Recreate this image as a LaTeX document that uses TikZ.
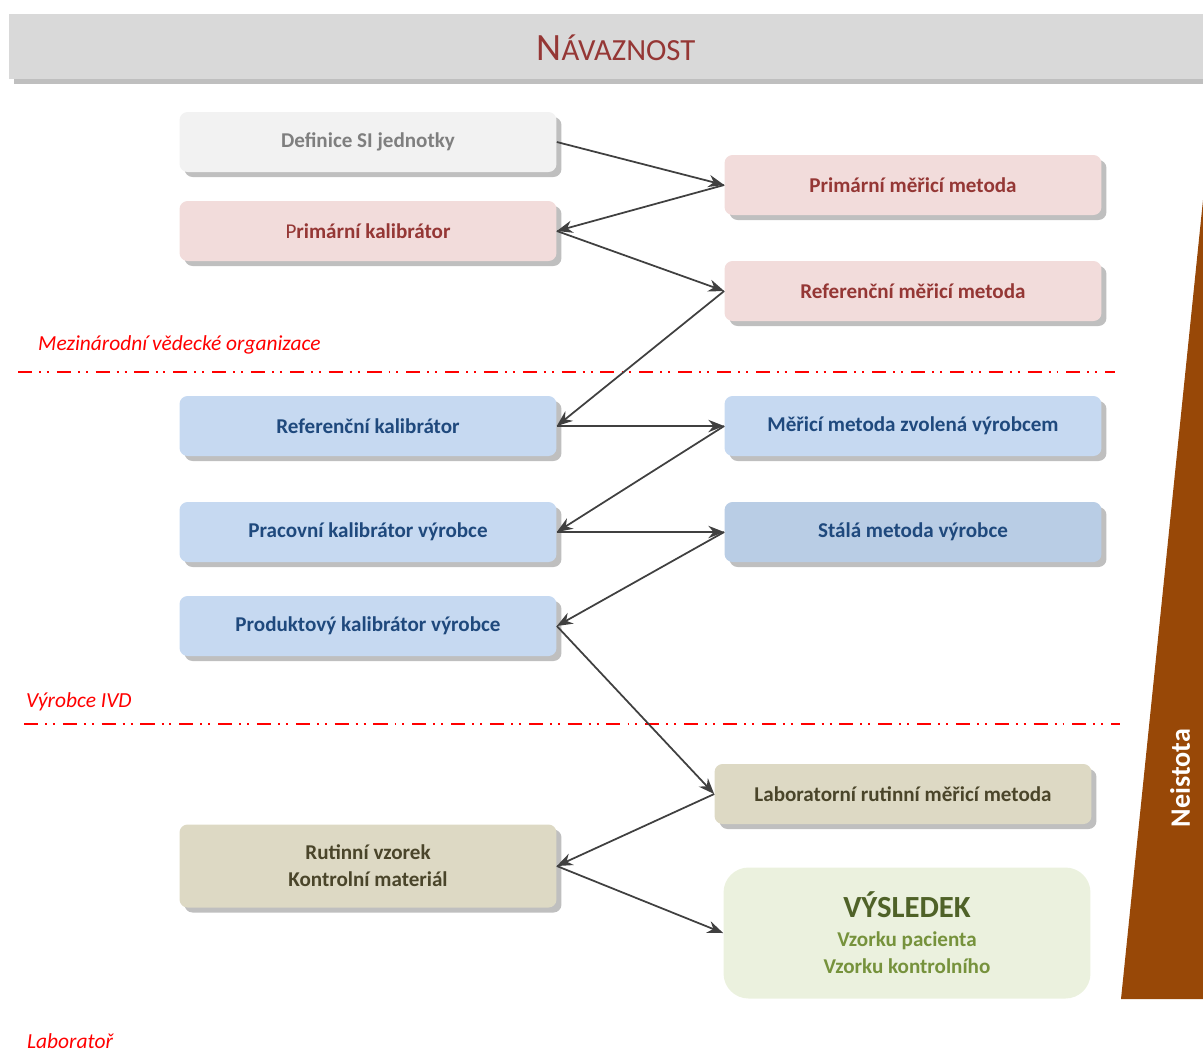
\documentclass[tikz,border=0pt]{standalone}
\usepackage{fontspec}
\setmainfont{Carlito}
\usetikzlibrary{arrows.meta,shadows}
\definecolor{titlegray}{HTML}{D9D9D9}
\definecolor{shadowgray}{HTML}{BFBFBF}
\definecolor{darkred}{HTML}{953735}
\definecolor{pinkfill}{HTML}{F2DCDB}
\definecolor{lightgray}{HTML}{F2F2F2}
\definecolor{textgray}{HTML}{7F7F7F}
\definecolor{bluefill}{HTML}{C6D9F1}
\definecolor{bluefilldark}{HTML}{B9CDE5}
\definecolor{bluetext}{HTML}{1F497D}
\definecolor{tanfill}{HTML}{DDD9C4}
\definecolor{tantext}{HTML}{4A452A}
\definecolor{greenfill}{HTML}{EBF1DE}
\definecolor{greendark}{HTML}{4F6228}
\definecolor{greentext}{HTML}{76923C}
\definecolor{arrowgray}{HTML}{404040}
\definecolor{brownbar}{HTML}{984807}

\begin{document}
\begin{tikzpicture}[x=0.02cm,y=-0.02cm]
    \tikzstyle{every node}=[font=\bfseries\fontsize{12}{15.5}\selectfont]
    \tikzstyle{box}=[rounded corners=0.16cm, minimum width=7.54cm, minimum height=1.2cm, align=center,
        drop shadow={shadow xshift=0.1cm, shadow yshift=-0.1cm, fill=shadowgray, opacity=1}]
    \tikzstyle{conn}=[draw=arrowgray, line width=1pt, -{Stealth[length=9pt,width=7pt]}]
    \tikzstyle{border}=[red, line width=1.1pt, dash pattern=on 8pt off 4pt on 1.1pt off 3.4pt on 1.1pt off 4.5pt]
    \tikzstyle{zone}=[red, font=\itshape\fontsize{12.2}{14}\selectfont, anchor=west]
    \useasboundingbox (0,0) rectangle (1203,1059);
    % title bar
    \fill[shadowgray] (14,21) rectangle (1203,84);
    \fill[titlegray] (9,14) rectangle (1203,79);
    \node[darkred, font=\fontsize{22}{24}\selectfont] (title) at (616,48) {N{\fontsize{17.5}{20}\selectfont ÁVAZNOST}};
    % uncertainty wedge
    \fill[brownbar] (1203,200) -- (1203,999) -- (1121,999) -- cycle;
    \node[white, rotate=90, font=\bfseries\fontsize{16}{18}\selectfont] (neistota) at (1180,778) {Neistota};
    % left column
    \node[box, fill=lightgray, text=textgray] (def) at (368,142) {Definice SI jednotky};
    \node[box, fill=pinkfill, text=darkred] (pkal) at (368,231) {{\mdseries P}rimární kalibrátor};
    \node[box, fill=bluefill, text=bluetext] (rkal) at (368,426) {Referenční kalibrátor};
    \node[box, fill=bluefill, text=bluetext] (wkal) at (368,532) {Pracovní kalibrátor výrobce};
    \node[box, fill=bluefill, text=bluetext] (prkal) at (368,626) {Produktový kalibrátor výrobce};
    \node[box, fill=tanfill, text=tantext, minimum height=1.66cm] (rutin) at (368,866) {Rutinní vzorek\\Kontrolní materiál};
    % right column
    \node[box, fill=pinkfill, text=darkred] (pmm) at (913,185) {Primární měřicí metoda};
    \node[box, fill=pinkfill, text=darkred] (rmm) at (913,291) {Referenční měřicí metoda};
    \node[box, fill=bluefill, text=bluetext] (vmm) at (913,426) {Měřicí metoda zvolená výrobcem};
    \node[box, fill=bluefilldark, text=bluetext] (smm) at (913,532) {Stálá metoda výrobce};
    \node[box, fill=tanfill, text=tantext] (lmm) at (903,794) {Laboratorní rutinní měřicí metoda};
    \node[fill=greenfill, rounded corners=0.5cm, minimum width=7.34cm, minimum height=2.62cm, align=center] (vys) at (907,933)
        {{\color{greendark}\fontsize{17.5}{20}\selectfont VÝSLEDEK}\\[1pt]{\color{greentext}Vzorku pacienta}\\{\color{greentext}Vzorku kontrolního}};
    % zones
    \draw[border] (18,372) -- (1115,372);
    \draw[border] (24,724) -- (1120,724);
    \node[zone] (mvo) at (32,345) {Mezinárodní vědecké organizace};
    \node[zone] (ivd) at (20,702) {Výrobce IVD};
    \node[zone] (lab) at (21,1041) {Laboratoř};
    % chain
    \draw[conn] (def.east) -- (pmm.west);
    \draw[conn] (pmm.west) -- (pkal.east);
    \draw[conn] (pkal.east) -- (rmm.west);
    \draw[conn] (rmm.west) -- (rkal.east);
    \draw[conn] (rkal.east) -- (vmm.west);
    \draw[conn] (vmm.west) -- (wkal.east);
    \draw[conn] (wkal.east) -- (smm.west);
    \draw[conn] (smm.west) -- (prkal.east);
    \draw[conn] (prkal.east) -- (lmm.west);
    \draw[conn] (lmm.west) -- (rutin.east);
    \draw[conn] (rutin.east) -- (vys.west);
\end{tikzpicture}
\end{document}
